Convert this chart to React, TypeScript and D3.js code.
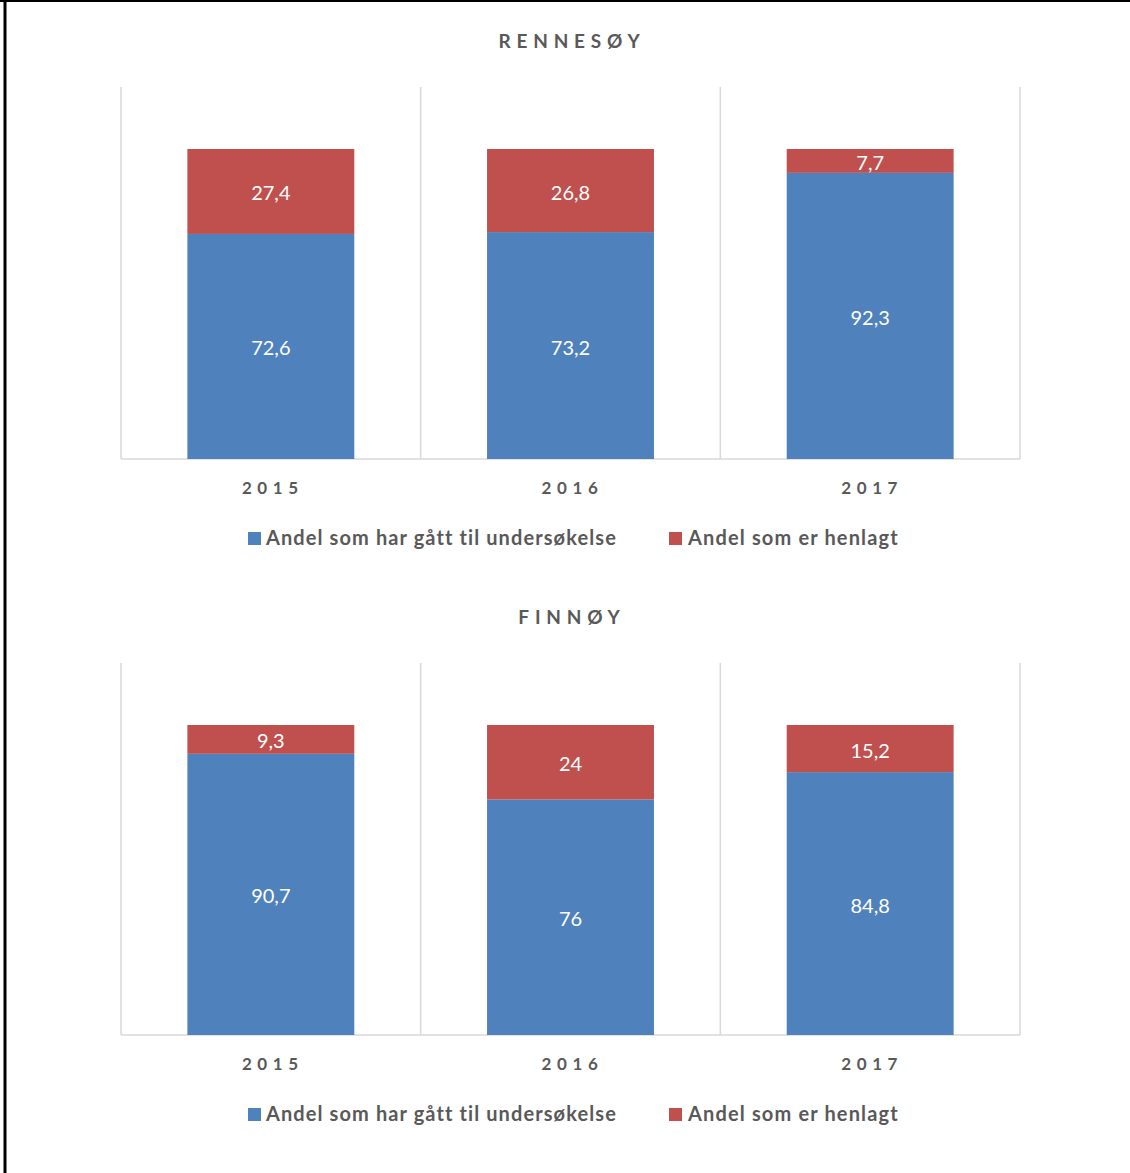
import React from 'react';
import * as d3 from 'd3';

const years = ['2015', '2016', '2017'];
const seriesNames = ['Andel som har gått til undersøkelse', 'Andel som er henlagt'];
const rennesoyUndersokelse = [72.6, 73.2, 92.3];
const rennesoyHenlagt = [27.4, 26.8, 7.7];
const finnoyUndersokelse = [90.7, 76, 84.8];
const finnoyHenlagt = [9.3, 24, 15.2];
const panelTitles = ['RENNESØY', 'FINNØY'];

const BLUE = '#4f81bd';
const RED = '#c0504d';
const GREY = '#595959';
const GRID = '#d9d9d9';
const FONT = 'Lato, "Open Sans", sans-serif';

const fmt = (v: number) => String(v).replace('.', ',');

function Panel({ title, blue, red, offsetY }: { title: string; blue: number[]; red: number[]; offsetY: number }) {
  const x = d3.scaleBand<string>().domain(years).range([121, 1020]).paddingInner(0.443).paddingOuter(0.2215);
  const y = d3.scaleLinear().domain([0, 120]).range([459, 87]);
  const step = x.step();
  const boundaries = d3.range(years.length + 1).map((i) => 121 + i * step);
  const stack = d3.stack<any>().keys(['blue', 'red'])(years.map((yr, i) => ({ yr, blue: blue[i], red: red[i] })));
  const colors = [BLUE, RED];
  return (
    <g transform={`translate(0,${offsetY})`}>
      <text x={572} y={48} textAnchor="middle" fontFamily={FONT} fontWeight={700} fontSize={19} fill={GREY} letterSpacing={5.8}>
        {title}
      </text>
      {boundaries.map((bx, i) => (
        <line key={i} x1={bx} x2={bx} y1={y(120)} y2={y(0)} stroke={GRID} strokeWidth={1.5} />
      ))}
      <line x1={121} x2={1020} y1={y(0)} y2={y(0)} stroke={GRID} strokeWidth={1.5} />
      {stack.map((layer, li) =>
        layer.map((d, i) => (
          <g key={`${li}-${i}`}>
            <rect x={x(years[i])} width={x.bandwidth()} y={y(d[1])} height={y(d[0]) - y(d[1])} fill={colors[li]} />
            <text
              x={(x(years[i]) as number) + x.bandwidth() / 2}
              y={(y(d[0]) + y(d[1])) / 2 + 9}
              textAnchor="middle"
              fontFamily={FONT}
              fontSize={20}
              fill="#ffffff"
            >
              {fmt(li === 0 ? blue[i] : red[i])}
            </text>
          </g>
        ))
      )}
      {years.map((yr) => (
        <text
          key={yr}
          x={(x(yr) as number) + x.bandwidth() / 2 + 2}
          y={494}
          textAnchor="middle"
          fontFamily={FONT}
          fontWeight={700}
          fontSize={17}
          fill={GREY}
          letterSpacing={5.6}
        >
          {yr}
        </text>
      ))}
      <rect x={248} y={532} width={13} height={13} fill={BLUE} />
      <text x={266} y={545} fontFamily={FONT} fontWeight={700} fontSize={20} fill={GREY} letterSpacing={1.1}>
        {seriesNames[0]}
      </text>
      <rect x={669} y={532} width={13} height={13} fill={RED} />
      <text x={688} y={545} fontFamily={FONT} fontWeight={700} fontSize={20} fill={GREY} letterSpacing={1.15}>
        {seriesNames[1]}
      </text>
    </g>
  );
}

export default function App() {
  return (
    <svg width={1130} height={1173} style={{ position: 'absolute', left: 0, top: 0, background: '#fff' }}>
      <rect x={0} y={0} width={1130} height={1173} fill="#fff" />
      <line x1={0} x2={1130} y1={1} y2={1} stroke="#000" strokeWidth={2} />
      <line x1={5} x2={5} y1={0} y2={1173} stroke="#000" strokeWidth={3} />
      <Panel title={panelTitles[0]} blue={rennesoyUndersokelse} red={rennesoyHenlagt} offsetY={0} />
      <Panel title={panelTitles[1]} blue={finnoyUndersokelse} red={finnoyHenlagt} offsetY={576} />
    </svg>
  );
}
